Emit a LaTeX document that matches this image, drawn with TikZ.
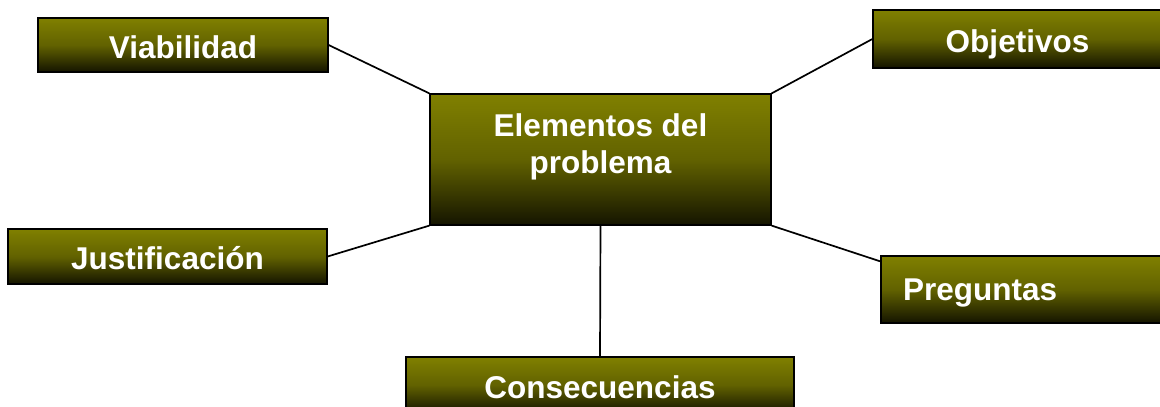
\documentclass[tikz,border=0pt]{standalone}
\usepackage{fontspec}
\usepackage{tikz}
\setmainfont{Liberation Sans}
\definecolor{olivetop}{HTML}{808000}
\definecolor{olivebottom}{HTML}{141400}

\begin{document}
\begin{tikzpicture}[x=1pt, y=-1pt,
  box/.style={draw=black, line width=1.2pt, top color=olivetop, bottom color=olivebottom,
    middle color=olivetop!72!olivebottom, inner sep=0pt},
  boxtext/.style={text=white, font=\fontsize{31.5}{37}\selectfont\bfseries, align=center},
  oneline/.style={text height=30pt, text depth=4pt},
  link/.style={draw=black, line width=1.7pt}]
\useasboundingbox (0,0) rectangle (1160,407);
\clip (0,0) rectangle (1160,407);

% Draw the central box (Elementos del problema)
\node[box, minimum width=341pt, minimum height=131pt] (cen) at (600.5,159.5) {};
\node[boxtext] (centxt) at (600.5,147) {Elementos del\\problema};

% Draw the outer boxes
\node[box, boxtext, oneline, minimum width=290pt, minimum height=54pt] (via) at (183,45) {Viabilidad};
\node[box, boxtext, oneline, minimum width=289pt, minimum height=58pt] (obj) at (1017.5,39) {Objetivos};
\node[box, boxtext, oneline, minimum width=319pt, minimum height=55pt] (jus) at (167.5,256.5) {Justificaci\'on};
\node[box, boxtext, text height=28pt, text depth=6pt, align=left, text width=246pt, inner xsep=22pt, minimum width=290pt, minimum height=67pt] (pre) at (1026,289.5) {Preguntas};
\node[box, boxtext, oneline, minimum width=388pt, minimum height=56pt] (con) at (600,385) {Consecuencias};

% Connect the boxes to the centre
\draw[link] (via.east) -- (cen.north west);
\draw[link] (obj.west) -- (cen.north east);
\draw[link] (jus.east) -- (cen.south west);
\draw[link] ([yshift=-6pt]pre.north west) -- (cen.south east);
\draw[link] (cen.south) -- (con.north);
\end{tikzpicture}
\end{document}
